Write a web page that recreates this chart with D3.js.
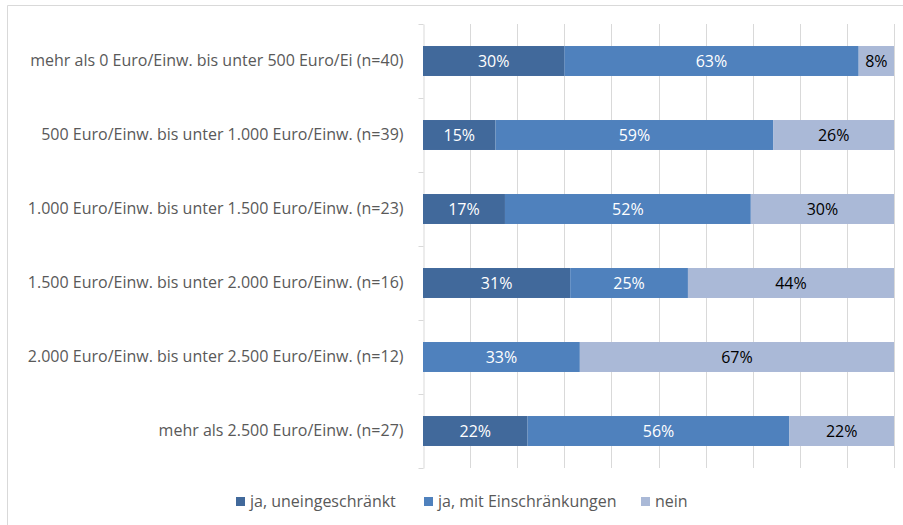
<!DOCTYPE html>
<html>
<head>
<meta charset="utf-8">
<script src="https://cdn.jsdelivr.net/npm/d3@7"></script>
<style>
	body { margin: 0; background: #fff; }
	svg { display: block; font-family: "Open Sans", sans-serif; }
</style>
</head>
<body>
<script>
	// categories, top to bottom
	var categories = [
		"mehr als 0 Euro/Einw. bis unter 500 Euro/Ei (n=40)",
		"500 Euro/Einw. bis unter 1.000 Euro/Einw. (n=39)",
		"1.000 Euro/Einw. bis unter 1.500 Euro/Einw. (n=23)",
		"1.500 Euro/Einw. bis unter 2.000 Euro/Einw. (n=16)",
		"2.000 Euro/Einw. bis unter 2.500 Euro/Einw. (n=12)",
		"mehr als 2.500 Euro/Einw. (n=27)"
	];
	var seriesNames = ["ja, uneingeschränkt", "ja, mit Einschränkungen", "nein"];
	// percent values per series
	var jaUneingeschraenkt = [30, 15.4, 17.4, 31.25, 0, 22.2];
	var jaMitEinschraenkungen = [62.5, 59, 52.2, 25, 33.3, 55.6];
	var nein = [7.5, 25.6, 30.4, 43.75, 66.7, 22.2];
	var xTicks = [0, 10, 20, 30, 40, 50, 60, 70, 80, 90, 100];

	var width = 903, height = 525;
	var colors = ["#41699b", "#4f81bd", "#aab9d7"];
	var textColors = ["#fff", "#fff", "#000"];
	var fontSize = "16px";

	var rows = categories.map(function(c, i) {
		return { cat: c, s0: jaUneingeschraenkt[i], s1: jaMitEinschraenkungen[i], s2: nein[i] };
	});

	var stack = d3.stack().keys(["s0", "s1", "s2"]);
	var layers = stack(rows);

	var x = d3.scaleLinear().domain([0, 100]).range([423, 894]);
	var y = d3.scaleBand().domain(categories).range([24, 468]).paddingInner(0.595).paddingOuter(0.2975);

	var svg = d3.select("body").append("svg")
		.attr("width", width)
		.attr("height", height);

	// outer frame (top and left edges visible)
	svg.append("path")
		.attr("d", "M7.5,525V5.5H903")
		.attr("fill", "none")
		.attr("stroke", "#d9d9d9")
		.attr("stroke-width", 1);

	// gridlines
	svg.append("g")
		.selectAll("line")
		.data(xTicks.slice(1))
		.enter().append("line")
		.attr("x1", function(d) { return Math.round(x(d)) + 0.5; })
		.attr("x2", function(d) { return Math.round(x(d)) + 0.5; })
		.attr("y1", 24)
		.attr("y2", 468)
		.attr("stroke", "#d9d9d9");

	// category axis
	var yAxis = d3.axisLeft(y).tickSize(0).tickPadding(20);
	var gy = svg.append("g")
		.attr("transform", "translate(423.5,0)")
		.call(yAxis);
	gy.select(".domain").attr("stroke", "#d9d9d9");
	gy.selectAll("text")
		.attr("fill", "#595959")
		.style("font-size", fontSize)
		.style("font-family", "'Open Sans', sans-serif");

	// boundary tick marks
	var step = y.step();
	gy.selectAll(".bound")
		.data(d3.range(categories.length + 1))
		.enter().append("line")
		.attr("x1", -5).attr("x2", 0)
		.attr("y1", function(i) { return Math.round(24 + i * step) + 0.5; })
		.attr("y2", function(i) { return Math.round(24 + i * step) + 0.5; })
		.attr("stroke", "#d9d9d9");

	// bars
	layers.forEach(function(l, li) {
		svg.append("g").selectAll("rect")
			.data(l)
			.enter().append("rect")
			.attr("x", function(d) { return x(d[0]); })
			.attr("y", function(d) { return y(d.data.cat); })
			.attr("width", function(d) { return x(d[1]) - x(d[0]); })
			.attr("height", y.bandwidth())
			.attr("fill", colors[li]);
	});

	// value labels
	layers.forEach(function(l, li) {
		svg.append("g").selectAll("text")
			.data(l.filter(function(d) { return d[1] - d[0] > 0; }))
			.enter().append("text")
			.attr("x", function(d) { return (x(d[0]) + x(d[1])) / 2; })
			.attr("y", function(d) { return y(d.data.cat) + y.bandwidth() / 2; })
			.attr("dy", "0.35em")
			.attr("text-anchor", "middle")
			.attr("fill", textColors[li])
			.style("font-size", fontSize)
			.text(function(d) { return Math.round(d[1] - d[0]) + "%"; });
	});

	// legend
	var legendX = [236, 424, 641];
	var legend = svg.append("g").selectAll("g")
		.data(seriesNames)
		.enter().append("g")
		.attr("transform", function(d, i) { return "translate(" + legendX[i] + ",497)"; });
	legend.append("rect")
		.attr("width", 9).attr("height", 9)
		.attr("fill", function(d, i) { return colors[i]; });
	legend.append("text")
		.attr("x", 14)
		.attr("y", 4.5)
		.attr("dy", "0.35em")
		.attr("fill", "#595959")
		.style("font-size", fontSize)
		.text(function(d) { return d; });
</script>
</body>
</html>
